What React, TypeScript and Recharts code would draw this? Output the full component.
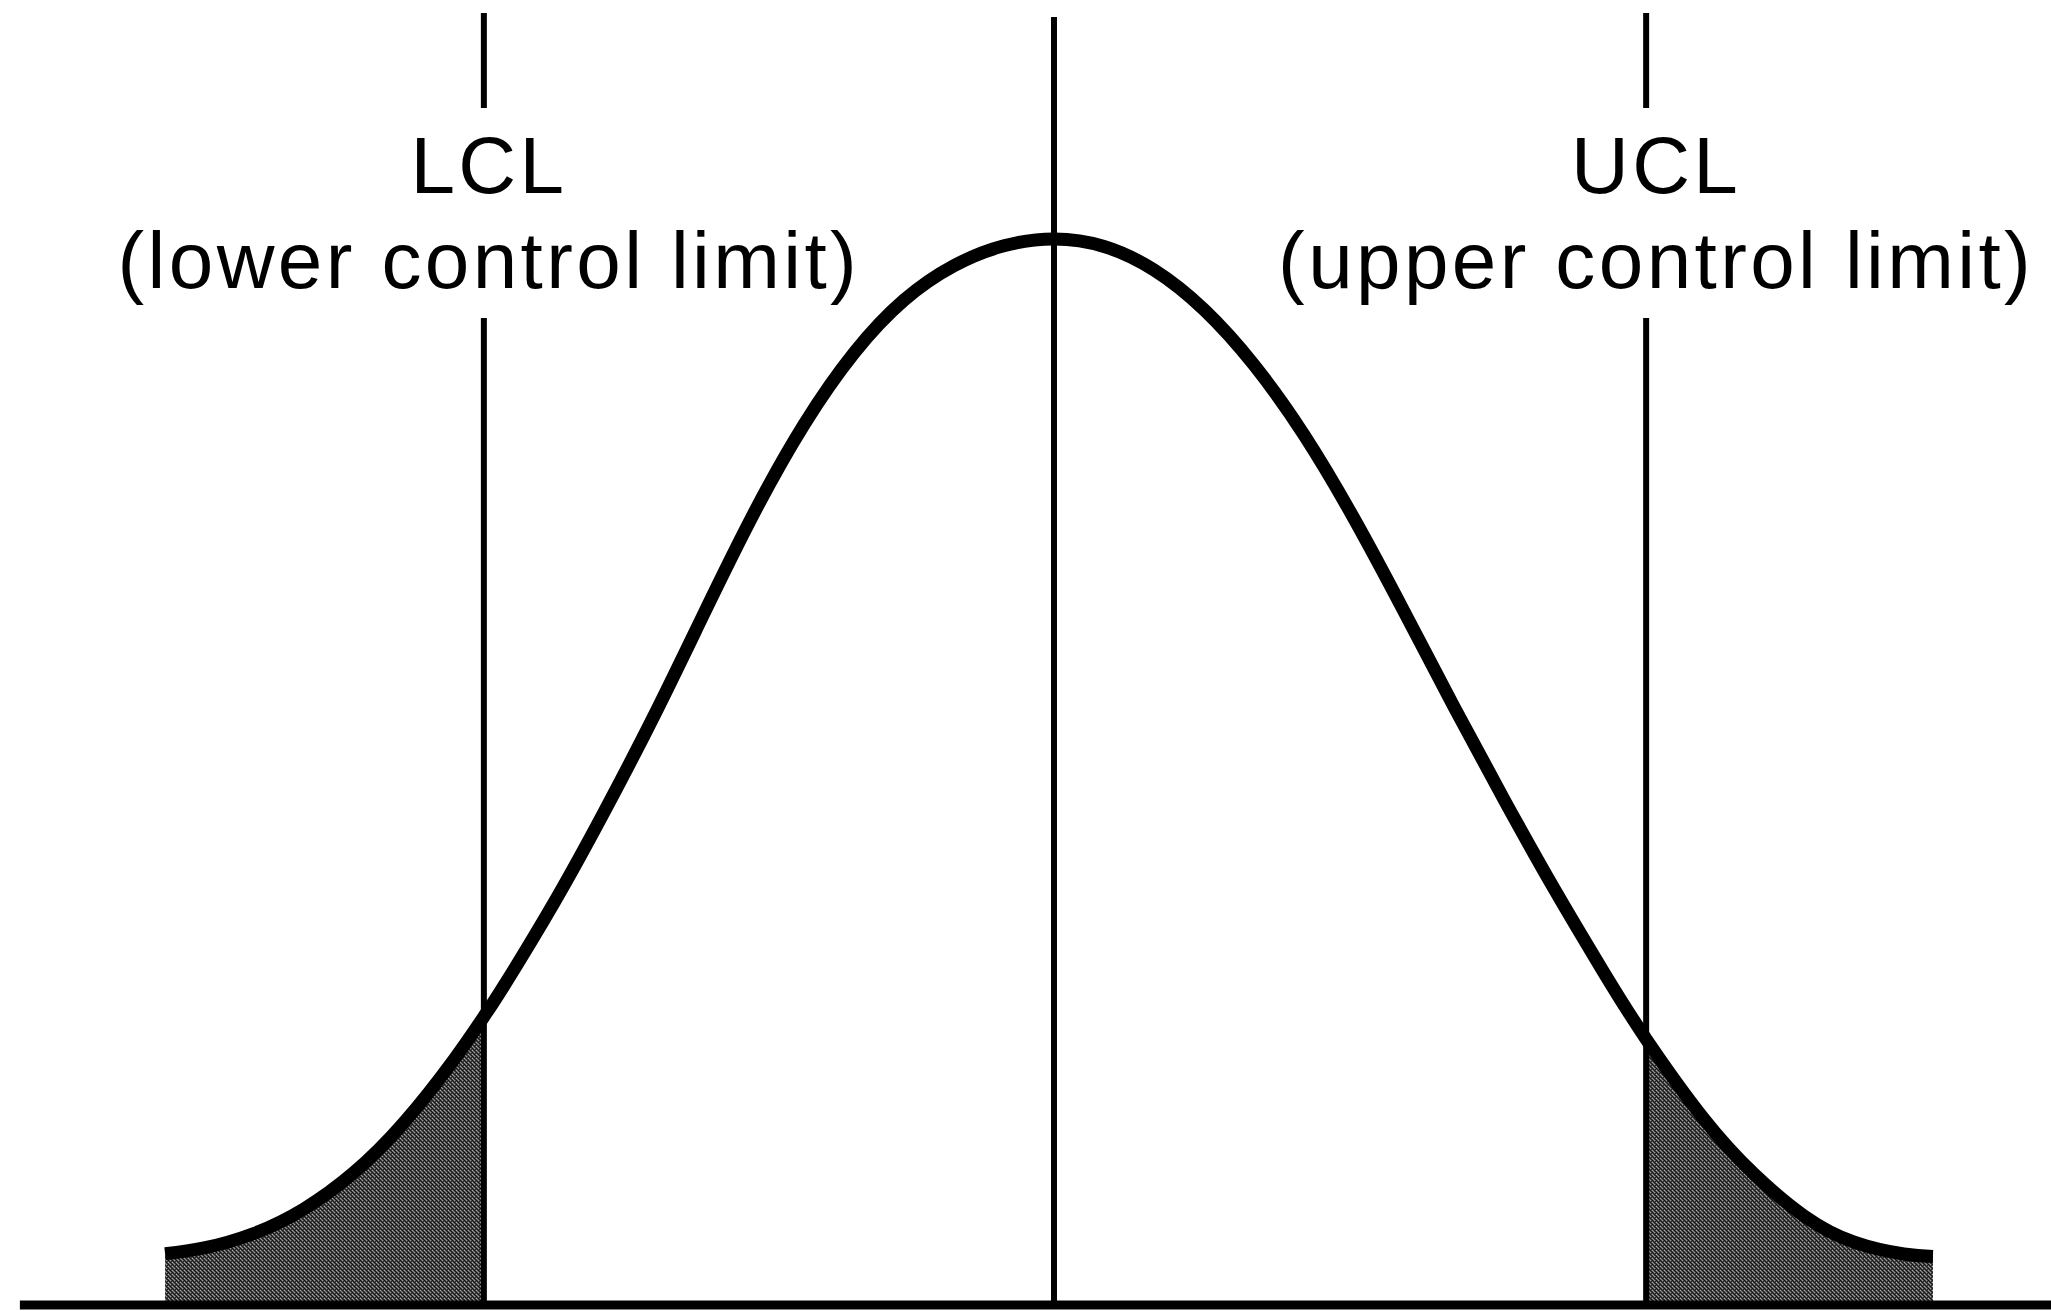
import React from 'react';
import { ComposedChart, Line, Area, XAxis, YAxis, ReferenceLine } from 'recharts';

// Curve: x in standard-deviation units from the centre line,
// y as height relative to the peak (peak = 1).
const CURVE_X = [
  -2.504, -2.394, -2.254, -2.113, -1.972, -1.831, -1.69, -1.606, -1.549, -1.408,
  -1.268, -1.127, -0.986, -0.845, -0.704, -0.563, -0.423, -0.282, -0.141, 0,
  0.141, 0.282, 0.423, 0.563, 0.704, 0.845, 0.986, 1.127, 1.268, 1.408,
  1.549, 1.668, 1.831, 1.972, 2.113, 2.254, 2.394, 2.476,
];
const CURVE_Y = [
  0.048, 0.0535, 0.0671, 0.0901, 0.1243, 0.1712, 0.2303, 0.2705, 0.2997, 0.3776,
  0.462, 0.5525, 0.6487, 0.743, 0.826, 0.8932, 0.9425, 0.9749, 0.9936, 1.0,
  0.993, 0.9709, 0.9336, 0.882, 0.8164, 0.7378, 0.6506, 0.561, 0.474, 0.3909,
  0.3119, 0.2495, 0.1745, 0.1229, 0.0835, 0.0589, 0.0478, 0.0455,
];

const CENTER_X = 0;
const LCL_X = -1.606;
const UCL_X = 1.668;

const LCL_TITLE = 'LCL';
const LCL_DESC = '(lower control limit)';
const UCL_TITLE = 'UCL';
const UCL_DESC = '(upper control limit)';

const CURVE = CURVE_X.map((x, i) => ({ x, y: CURVE_Y[i] }));
const LEFT_TAIL = CURVE.filter((p) => p.x <= LCL_X);
const RIGHT_TAIL = CURVE.filter((p) => p.x >= UCL_X);

// layout (not data)
const W = 2051;
const H = 1311;
const X_DOMAIN: [number, number] = [-2.96901, 2.80845];
const Y_DOMAIN: [number, number] = [-0.00563, 1.2242];
const LINE_TOP = 1.212;
const LINE_GAP_TOP = 1.1229;
const LINE_GAP_BOTTOM = 0.926;
const CENTER_TOP = 1.2083;
const BASE_START = -2.913;

const FONT = '"Liberation Sans", Arial, Helvetica, sans-serif';

function LimitLabel(props: any) {
  const { viewBox, title, desc, dx = 0 } = props;
  if (!viewBox) return null;
  const cx = viewBox.x + dx;
  const top = viewBox.y;
  return (
    <g>
      <text
        x={cx}
        y={top - 125}
        textAnchor="middle"
        fontFamily={FONT}
        fontSize={80}
        letterSpacing={3.4}
        fill="#000"
      >
        {title}
      </text>
      <text
        x={cx}
        y={top - 30}
        textAnchor="middle"
        fontFamily={FONT}
        fontSize={80}
        letterSpacing={3.4}
        fill="#000"
      >
        {desc}
      </text>
    </g>
  );
}

export default function App() {
  return (
    <div style={{ position: 'absolute', left: 0, top: 0, width: W, height: H, background: '#fff' }}>
      <ComposedChart
        width={W}
        height={H}
        data={CURVE}
        margin={{ top: 0, right: 0, bottom: 0, left: 0 }}
      >
        <defs>
          <pattern id="stipple" width="4" height="4" patternUnits="userSpaceOnUse">
            <rect x="0" y="0" width="4" height="4" fill="#4a4a4a" />
            <rect x="0" y="0" width="1" height="1" fill="#111" />
            <rect x="2" y="0" width="1" height="1" fill="#9a9a9a" />
            <rect x="1" y="1" width="1" height="1" fill="#1a1a1a" />
            <rect x="3" y="1" width="1" height="1" fill="#2a2a2a" />
            <rect x="0" y="2" width="1" height="1" fill="#a8a8a8" />
            <rect x="2" y="2" width="1" height="1" fill="#141414" />
            <rect x="1" y="3" width="1" height="1" fill="#8c8c8c" />
            <rect x="3" y="3" width="1" height="1" fill="#181818" />
          </pattern>
        </defs>
        <XAxis dataKey="x" type="number" domain={X_DOMAIN} allowDataOverflow hide />
        <YAxis type="number" domain={Y_DOMAIN} allowDataOverflow hide />

        <Area
          data={LEFT_TAIL}
          dataKey="y"
          type="monotone"
          baseValue={0}
          fill="url(#stipple)"
          fillOpacity={1}
          stroke="none"
          isAnimationActive={false}
          dot={false}
          activeDot={false}
        />
        <Area
          data={RIGHT_TAIL}
          dataKey="y"
          type="monotone"
          baseValue={0}
          fill="url(#stipple)"
          fillOpacity={1}
          stroke="none"
          isAnimationActive={false}
          dot={false}
          activeDot={false}
        />

        <ReferenceLine
          segment={[{ x: BASE_START, y: 0 }, { x: X_DOMAIN[1], y: 0 }]}
          stroke="#000"
          strokeWidth={9}
          ifOverflow="visible"
        />
        <ReferenceLine
          segment={[{ x: CENTER_X, y: CENTER_TOP }, { x: CENTER_X, y: 0 }]}
          stroke="#000"
          strokeWidth={6}
          ifOverflow="visible"
        />
        <ReferenceLine
          segment={[{ x: LCL_X, y: LINE_TOP }, { x: LCL_X, y: LINE_GAP_TOP }]}
          stroke="#000"
          strokeWidth={6}
          ifOverflow="visible"
        />
        <ReferenceLine
          segment={[{ x: LCL_X, y: LINE_GAP_BOTTOM }, { x: LCL_X, y: 0 }]}
          stroke="#000"
          strokeWidth={6}
          ifOverflow="visible"
          label={<LimitLabel title={LCL_TITLE} desc={LCL_DESC} dx={5} />}
        />
        <ReferenceLine
          segment={[{ x: UCL_X, y: LINE_TOP }, { x: UCL_X, y: LINE_GAP_TOP }]}
          stroke="#000"
          strokeWidth={6}
          ifOverflow="visible"
        />
        <ReferenceLine
          segment={[{ x: UCL_X, y: LINE_GAP_BOTTOM }, { x: UCL_X, y: 0 }]}
          stroke="#000"
          strokeWidth={6}
          ifOverflow="visible"
          label={<LimitLabel title={UCL_TITLE} desc={UCL_DESC} dx={10} />}
        />

        <Line
          dataKey="y"
          type="natural"
          stroke="#000"
          strokeWidth={13}
          dot={false}
          activeDot={false}
          isAnimationActive={false}
        />
      </ComposedChart>
    </div>
  );
}
